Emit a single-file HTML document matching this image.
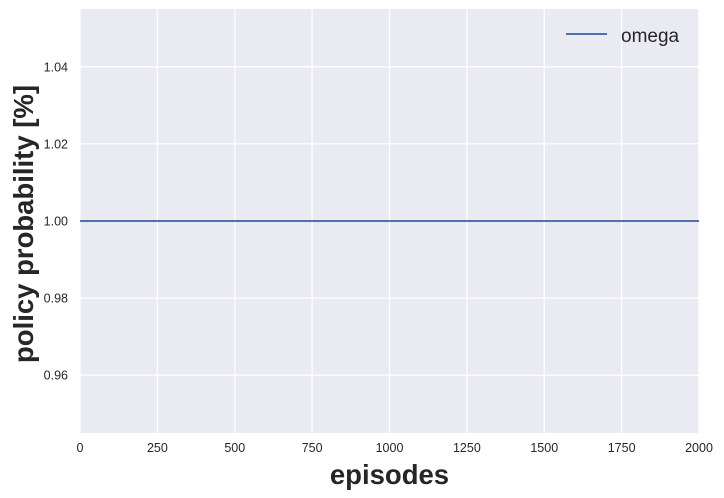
<!DOCTYPE html>
<html><head><meta charset="utf-8"><style>
body{margin:0;background:#fff;}
svg{display:block;font-family:"Liberation Sans",Arial,sans-serif;}
</style></head><body>
<svg id="chart" width="724" height="498"></svg>
<script>
const xTicks=[0,250,500,750,1000,1250,1500,1750,2000];
const yTicks=[0.96,0.98,1.00,1.02,1.04];
const yTickLabels=["0.96","0.98","1.00","1.02","1.04"];
const episodes=[0,2000];
const omega=[1.0,1.0];
const seriesName="omega";

const L=80,R=699,T=9,B=433;
const xMin=0,xMax=2000,yMin=0.945,yMax=1.055;
const sx=v=>L+(v-xMin)/(xMax-xMin)*(R-L);
const sy=v=>B-(v-yMin)/(yMax-yMin)*(B-T);
const NS="http://www.w3.org/2000/svg";
const svg=document.getElementById('chart');
function mk(tag,attrs,parent){const e=document.createElementNS(NS,tag);for(const k in attrs)e.setAttribute(k,attrs[k]);(parent||svg).appendChild(e);return e;}

const bg=mk('rect',{x:L,y:T,width:R-L,height:B-T,fill:'#eaeaf2'});



xTicks.forEach(t=>{
  const g=mk('line',{x1:sx(t),x2:sx(t),y1:T,y2:B,stroke:'#fff','stroke-width':1.3});
  
  
  const lb=mk('text',{x:sx(t),y:B+19,'text-anchor':'middle','font-size':12.5,fill:'#262626'});
  lb.textContent=t;
  
  
});
yTicks.forEach((t,i)=>{
  const g=mk('line',{x1:L,x2:R,y1:sy(t),y2:sy(t),stroke:'#fff','stroke-width':1.3});
  
  
  const lb=mk('text',{x:L-12,y:sy(t)+4.5,'text-anchor':'end','font-size':12.5,fill:'#262626'});
  lb.textContent=yTickLabels[i];
  
  
});

const pts=episodes.map((e,i)=>sx(e)+','+sy(omega[i])).join(' ');
const line=mk('polyline',{points:pts,fill:'none',stroke:'#4c72b0','stroke-width':2});



const xt=mk('text',{x:(L+R)/2,y:484,'text-anchor':'middle','font-size':27.5,'font-weight':'bold',fill:'#262626'});
xt.textContent='episodes';


const yt=mk('text',{x:0,y:0,'text-anchor':'middle','font-size':27.5,'font-weight':'bold',fill:'#262626',transform:'translate(33,224) rotate(-90)'});
yt.textContent='policy probability [%]';



const lg=mk('line',{x1:566,x2:607,y1:34,y2:34,stroke:'#4c72b0','stroke-width':2});


const lt=mk('text',{x:621,y:42,'font-size':19,fill:'#262626'});
lt.textContent=seriesName;


</script>
</body></html>
